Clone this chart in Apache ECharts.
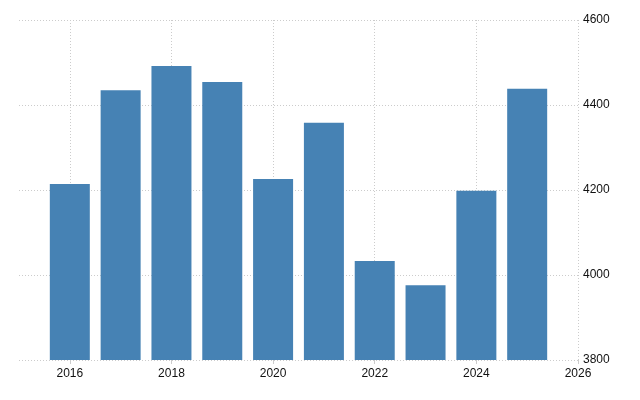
<!DOCTYPE html>
<html>
<head>
<meta charset="utf-8">
<script src="https://cdn.jsdelivr.net/npm/echarts@6/dist/echarts.min.js"></script>
<style>
html,body{margin:0;padding:0;background:#fff;}
#chart{width:640px;height:400px;}
</style>
</head>
<body>
<div id="chart"></div>
<script>
// Axis categories (years) spanning the x range
const years = ['2015','2016','2017','2018','2019','2020','2021','2022','2023','2024','2025','2026'];
// Series values per year (null where no bar)
const values = [null, 4214, 4435, 4492, 4454, 4226, 4358, 4033, 3976, 4198, 4438, null];
// Y tick range
const yMin = 3800, yMax = 4600, yStep = 200;

const FONT = '"Liberation Sans", Arial, sans-serif';
const isEven = (i) => Number(years[i]) % 2 === 0;

const chart = echarts.init(document.getElementById('chart'), null, {renderer: 'canvas'});
chart.setOption({
  animation: false,
  backgroundColor: '#ffffff',
  grid: {left: 19, right: 62, top: 20, bottom: 40, containLabel: false},
  xAxis: {
    type: 'category',
    data: years,
    boundaryGap: false,
    axisLine: {show: false},
    axisTick: {show: true, length: 4, interval: (i) => isEven(i), lineStyle: {color: '#cccccc'}},
    axisLabel: {interval: (i) => isEven(i), color: '#111111', fontFamily: FONT, fontSize: 12, margin: 8},
    splitLine: {show: true, interval: (i) => isEven(i), lineStyle: {color: '#cccccc', type: [1, 2], width: 1}}
  },
  yAxis: {
    type: 'value',
    position: 'right',
    min: yMin, max: yMax, interval: yStep,
    axisLine: {show: false},
    axisTick: {show: false},
    axisLabel: {color: '#111111', fontFamily: FONT, fontSize: 12, margin: 5, verticalAlign: 'middle',
      formatter: (v) => String(v)},
    splitLine: {show: true, lineStyle: {color: '#cccccc', type: [1, 2], width: 1}}
  },
  series: [{
    type: 'bar',
    data: values,
    barWidth: 40,
    itemStyle: {color: '#4682b4'}
  }]
});
</script>
</body>
</html>
